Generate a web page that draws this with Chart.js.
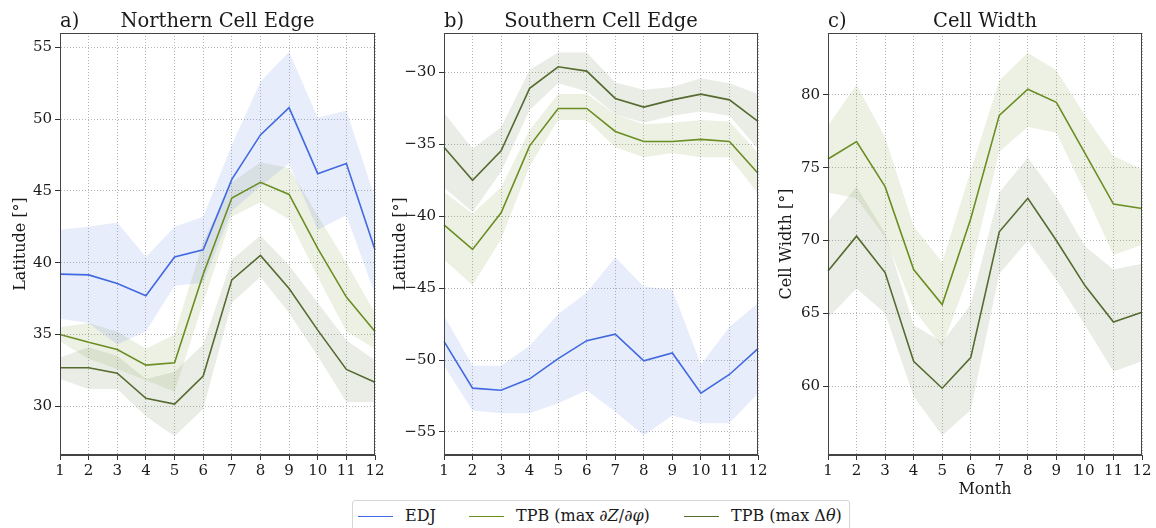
<!DOCTYPE html>
<html>
<head>
<meta charset="utf-8">
<script src="https://cdn.jsdelivr.net/npm/chart.js@4"></script>
<style>
  body { margin: 0; background: #fff; width: 1156px; height: 528px; overflow: hidden; position: relative; }
  .pan { position: absolute; top: 0; width: 390px; height: 500px; }
  #legend { position: absolute; left: 352px; top: 500px; width: 498px; height: 34px; box-sizing: border-box;
    border: 1px solid #d6d6d6; border-radius: 3px; font-family: 'DejaVu Serif', serif; font-size: 16px; color: #1a1a1a; }
  #legend span { position: absolute; top: 5px; white-space: nowrap; }
  #legend b { position: absolute; top: 15px; width: 35px; height: 0; border-top: 1.5px solid; }
  #legend em { font-style: italic; }
</style>
</head>
<body>
<div class="pan" style="left:0"><canvas id="cA"></canvas></div>
<div class="pan" style="left:380px"><canvas id="cB"></canvas></div>
<div class="pan" style="left:766px"><canvas id="cC"></canvas></div>
<div id="legend">
  <b style="left:5px;border-color:#4169e1"></b><span style="left:52px">EDJ</span>
  <b style="left:116px;border-color:#6b8e23"></b><span style="left:163px">TPB (max <em>∂Z</em>/<em>∂φ</em>)</span>
  <b style="left:331px;border-color:#556b2f"></b><span style="left:378px">TPB (max Δ<em>θ</em>)</span>
</div>
<script>
const months = ['1','2','3','4','5','6','7','8','9','10','11','12'];

// a) Northern cell edge
const nEdj   = [39.2, 39.15, 38.55, 37.7, 40.4, 40.9, 45.8, 48.9, 50.8, 46.2, 46.9, 40.9];
const nEdjHi = [42.3, 42.5, 42.8, 40.4, 42.5, 43.2, 48.2, 52.6, 54.7, 50.1, 50.6, 44.5];
const nEdjLo = [36.1, 35.8, 34.3, 35.2, 38.4, 38.6, 43.6, 45.3, 46.9, 42.3, 43.3, 37.8];
const nDz    = [35.0, 34.45, 33.95, 32.86, 33.02, 39.2, 44.5, 45.6, 44.75, 41.0, 37.6, 35.2];
const nDzHi  = [35.5, 35.8, 35.2, 34.0, 35.0, 41.5, 45.6, 47.0, 46.6, 43.3, 40.0, 36.5];
const nDzLo  = [34.5, 33.3, 32.6, 31.8, 31.0, 37.2, 43.2, 44.2, 43.0, 39.0, 35.2, 34.0];
const nDt    = [32.68, 32.68, 32.3, 30.55, 30.15, 32.1, 38.8, 40.5, 38.2, 35.3, 32.56, 31.67];
const nDtHi  = [33.4, 34.1, 33.5, 31.9, 32.4, 34.3, 40.2, 41.9, 39.8, 37.2, 34.6, 33.2];
const nDtLo  = [31.9, 31.2, 31.2, 29.3, 27.9, 29.8, 37.2, 39.0, 36.5, 33.5, 30.3, 30.3];

// b) Southern cell edge
const sEdj   = [-48.7, -51.95, -52.1, -51.3, -49.9, -48.65, -48.2, -50.05, -49.5, -52.3, -51.0, -49.2];
const sEdjHi = [-46.9, -50.4, -50.4, -49.0, -46.8, -45.3, -42.85, -44.9, -45.1, -50.3, -47.7, -46.05];
const sEdjLo = [-50.4, -53.5, -53.7, -53.7, -53.0, -52.1, -53.6, -55.25, -53.85, -54.4, -54.4, -52.3];
const sDz    = [-40.6, -42.3, -39.75, -35.1, -32.5, -32.5, -34.1, -34.8, -34.8, -34.65, -34.8, -37.0];
const sDzHi  = [-38.3, -39.8, -38.0, -34.0, -31.5, -31.5, -32.9, -33.6, -33.5, -33.3, -33.4, -35.6];
const sDzLo  = [-43.0, -44.8, -41.6, -36.5, -33.3, -33.3, -35.2, -35.9, -35.6, -35.9, -35.9, -38.4];
const sDt    = [-35.2, -37.5, -35.45, -31.1, -29.6, -29.9, -31.8, -32.4, -31.9, -31.5, -31.9, -33.4];
const sDtHi  = [-32.8, -35.3, -33.8, -29.8, -28.6, -28.6, -30.7, -31.2, -31.0, -30.4, -30.75, -31.5];
const sDtLo  = [-38.0, -39.7, -36.9, -32.6, -30.75, -31.3, -32.9, -33.5, -33.0, -32.7, -33.0, -35.3];

// c) Cell width
const wDz    = [75.6, 76.8, 73.7, 68.0, 65.6, 71.5, 78.6, 80.4, 79.5, 76.0, 72.5, 72.2];
const wDzHi  = [77.9, 80.7, 77.1, 71.0, 68.5, 74.8, 81.0, 82.9, 81.7, 78.6, 75.8, 74.9];
const wDzLo  = [73.3, 72.9, 70.2, 65.3, 62.7, 68.0, 76.1, 77.8, 77.4, 73.3, 69.0, 69.7];
const wDt    = [67.9, 70.3, 67.8, 61.7, 59.85, 61.95, 70.6, 72.9, 70.0, 66.9, 64.4, 65.07];
const wDtHi  = [71.3, 73.7, 70.5, 64.2, 63.0, 65.6, 73.3, 75.7, 73.0, 69.6, 68.0, 68.4];
const wDtLo  = [64.7, 66.7, 65.0, 59.3, 56.6, 58.35, 67.7, 70.0, 67.3, 64.2, 61.0, 61.7];

const BLUE = '#4169e1', OLIVE = '#6b8e23', DARK = '#556b2f';
const BAND = { [BLUE]: 'rgba(65,105,225,0.12)', [OLIVE]: 'rgba(107,142,35,0.12)', [DARK]: 'rgba(85,107,47,0.12)' };

Chart.defaults.font.family = "'DejaVu Serif', serif";
Chart.defaults.color = '#1a1a1a';

function series(mid, hi, lo, color) {
  return [
    { data: hi, borderWidth: 0, pointRadius: 0, fill: false, order: 2 },
    { data: lo, borderWidth: 0, pointRadius: 0, fill: '-1', backgroundColor: BAND[color], order: 2 },
    { data: mid, borderColor: color, borderWidth: 1.6, pointRadius: 0, fill: false, order: 0 }
  ];
}

const deco = {
  id: 'deco',
  afterDatasetsDraw(chart, args, o) {
    const { ctx, chartArea: a } = chart;
    ctx.save();
    ctx.strokeStyle = '#444';
    ctx.lineWidth = 1;
    ctx.strokeRect(Math.round(a.left) + 0.5, Math.round(a.top) + 0.5,
      Math.round(a.right - a.left) - 1, Math.round(a.bottom - a.top) - 1);
    ctx.fillStyle = '#1a1a1a';
    ctx.font = "19.5px 'DejaVu Serif'";
    ctx.textBaseline = 'alphabetic';
    ctx.textAlign = 'left';
    ctx.fillText(o.tag, a.left, 27);
    ctx.textAlign = 'center';
    ctx.fillText(o.title, (a.left + a.right) / 2, 27);
    ctx.restore();
  }
};

function panel(id, tag, title, sets, ymin, ymax, yTitle, axisW, rightPad, xTitle) {
  new Chart(document.getElementById(id), {
    type: 'line',
    data: { labels: months, datasets: sets },
    plugins: [deco],
    options: {
      responsive: true, maintainAspectRatio: false, animation: false,
      layout: { padding: { top: 33, right: rightPad, left: 0, bottom: 0 } },
      plugins: { legend: { display: false }, tooltip: { enabled: false }, deco: { tag: tag, title: title } },
      elements: { line: { tension: 0 } },
      scales: {
        x: {
          offset: false,
          grid: { color: '#b5b5b5', tickLength: 5, tickColor: '#333', tickBorderDash: [] },
          border: { display: true, color: '#444', dash: [1, 2] },
          ticks: { font: { size: 15 }, maxRotation: 0, autoSkip: false, padding: 2 },
          title: { display: !!xTitle, text: xTitle, font: { size: 16 }, padding: { top: 0, bottom: 1 } },
          afterFit(s) { s.height = 45; }
        },
        y: {
          min: ymin, max: ymax,
          grid: { color: '#b5b5b5', tickLength: 5, tickColor: '#333', tickBorderDash: [] },
          border: { display: true, color: '#444', dash: [1, 2] },
          ticks: { stepSize: 5, includeBounds: false, font: { size: 15 }, padding: 3,
            callback: v => String(v).replace('-', '\u2212') },
          title: { display: true, text: yTitle, font: { size: 16 }, padding: { top: 11, bottom: 0 } },
          afterFit(s) { s.width = axisW; }
        }
      }
    }
  });
}

panel('cA', 'a)', 'Northern Cell Edge',
  [...series(nEdj, nEdjHi, nEdjLo, BLUE), ...series(nDz, nDzHi, nDzLo, OLIVE), ...series(nDt, nDtHi, nDtLo, DARK)],
  26.6, 56.0, 'Latitude [°]', 60, 15, '');
panel('cB', 'b)', 'Southern Cell Edge',
  [...series(sEdj, sEdjHi, sEdjLo, BLUE), ...series(sDz, sDzHi, sDzLo, OLIVE), ...series(sDt, sDtHi, sDtLo, DARK)],
  -56.6, -27.25, 'Latitude [°]', 64, 12, '');
panel('cC', 'c)', 'Cell Width',
  [...series(wDz, wDzHi, wDzLo, OLIVE), ...series(wDt, wDtHi, wDtLo, DARK)],
  55.26, 84.26, 'Cell Width [°]', 62, 14, 'Month');
</script>
</body>
</html>
